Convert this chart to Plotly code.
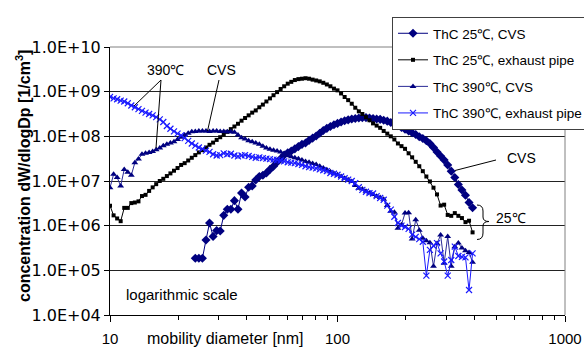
import plotly.graph_objects as go

# mobility diameter channels [nm] (64 channels per decade)
diam = [10.00, 10.37, 10.75, 11.14, 11.55, 11.97, 12.41, 12.86, 13.34, 13.82,
        14.33, 14.86, 15.40, 15.96, 16.55, 17.15, 17.78, 18.43, 19.11, 19.81,
        20.54, 21.29, 22.07, 22.88, 23.71, 24.58, 25.48, 26.42, 27.38, 28.39,
        29.43, 30.51, 31.62, 32.78, 33.98, 35.23, 36.52, 37.86, 39.24, 40.68,
        42.17, 43.72, 45.32, 46.98, 48.70, 50.48, 52.33, 54.25, 56.23, 58.29,
        60.43, 62.64, 64.94, 67.32, 69.78, 72.34, 74.99, 77.74, 80.58, 83.54,
        86.60, 89.77, 93.06, 96.47, 100.0, 103.7, 107.5, 111.4, 115.5, 119.7,
        124.1, 128.6, 133.4, 138.2, 143.3, 148.6, 154.0, 159.6, 165.5, 171.5,
        177.8, 184.3, 191.1, 198.1, 205.4, 212.9, 220.7, 228.8, 237.1, 245.8,
        254.8, 264.2, 273.8, 283.9, 294.3, 305.1, 316.2, 327.8, 339.8, 352.3,
        365.2, 378.6, 392.4]

# ThC 25C, CVS (starts at channel 24)
cvs25_start = 24
cvs25 = [1.86e5, 1.86e5, 1.86e5, 4.79e5, 1.15e6, 5.75e5, 7.76e5, 7.59e5, 1.70e6, 2.34e6,
         2.34e6, 3.63e6, 2.34e6, 5.37e6, 4.37e6, 7.24e6, 7.76e6, 1.05e7, 1.26e7, 1.35e7,
         1.51e7, 1.82e7, 2.14e7, 2.63e7, 3.16e7, 3.80e7, 4.27e7, 4.68e7, 5.25e7, 5.89e7,
         6.61e7, 7.08e7, 8.13e7, 9.12e7, 1.02e8, 1.17e8, 1.35e8, 1.51e8, 1.66e8, 1.82e8,
         1.95e8, 2.09e8, 2.24e8, 2.34e8, 2.45e8, 2.51e8, 2.57e8, 2.63e8, 2.63e8, 2.57e8,
         2.51e8, 2.45e8, 2.40e8, 2.29e8, 2.19e8, 2.04e8, 1.91e8, 1.74e8, 1.58e8, 1.45e8,
         1.32e8, 1.20e8, 1.10e8, 9.77e7, 8.91e7, 7.94e7, 6.92e7, 5.62e7, 4.47e7, 3.63e7,
         2.95e7, 2.29e7, 1.66e7, 1.20e7, 8.32e6, 6.31e6, 4.79e6, 3.31e6, 2.51e6]

# ThC 25C, exhaust pipe
pipe25 = [2.8e6, 1.7e6, 1.45e6, 1.26e6, 2.5e6, 2.5e6, 3.2e6, 3.3e6, 3.5e6, 4.6e6,
          4.9e6, 6.0e6, 7.2e6, 8.5e6, 1.00e7, 1.12e7, 1.29e7, 1.48e7, 1.70e7, 1.95e7,
          2.29e7, 2.51e7, 2.88e7, 3.31e7, 3.80e7, 4.37e7, 4.90e7, 5.62e7, 6.46e7, 7.24e7,
          8.32e7, 9.55e7, 1.10e8, 1.26e8, 1.45e8, 1.66e8, 1.91e8, 2.24e8, 2.57e8, 2.95e8,
          3.39e8, 3.80e8, 4.47e8, 5.13e8, 6.03e8, 7.08e8, 8.32e8, 9.77e8, 1.15e9, 1.32e9,
          1.51e9, 1.66e9, 1.82e9, 1.91e9, 1.95e9, 2.00e9, 1.95e9, 1.86e9, 1.78e9, 1.70e9,
          1.58e9, 1.45e9, 1.32e9, 1.17e9, 1.07e9, 9.12e8, 7.59e8, 6.46e8, 5.37e8, 4.37e8,
          3.63e8, 3.16e8, 2.69e8, 2.29e8, 1.95e8, 1.74e8, 1.55e8, 1.32e8, 1.15e8, 1.00e8,
          8.51e7, 6.92e7, 6.03e7, 5.25e7, 4.17e7, 3.39e7, 2.69e7, 2.14e7, 1.66e7, 1.26e7,
          9.77e6, 7.08e6, 5.01e6, 2.82e6, 2.95e6, 1.74e6, 1.66e6, 1.91e6, 1.66e6, 1.48e6,
          1.20e6, 1.29e6, 7.08e5]

# ThC 390C, CVS
cvs390 = [7.08e6, 1.41e7, 1.20e7, 7.76e6, 1.82e7, 1.58e7, 1.35e7, 2.57e7, 3.09e7, 3.98e7,
          4.17e7, 4.37e7, 4.57e7, 5.01e7, 5.50e7, 6.17e7, 6.61e7, 7.08e7, 7.59e7, 8.51e7,
          9.55e7, 1.07e8, 1.17e8, 1.26e8, 1.29e8, 1.32e8, 1.32e8, 1.32e8, 1.29e8, 1.32e8,
          1.32e8, 1.29e8, 1.29e8, 1.26e8, 1.26e8, 1.23e8, 1.07e8, 9.33e7, 8.71e7, 7.94e7,
          7.59e7, 7.08e7, 6.61e7, 6.03e7, 5.50e7, 5.13e7, 4.90e7, 4.68e7, 4.47e7, 4.07e7,
          3.72e7, 3.47e7, 3.31e7, 3.16e7, 2.95e7, 2.75e7, 2.63e7, 2.45e7, 2.34e7, 2.14e7,
          1.95e7, 1.78e7, 1.62e7, 1.48e7, 1.38e7, 1.26e7, 1.15e7, 1.07e7, 9.77e6, 7.94e6,
          6.92e6, 6.61e6, 5.89e6, 5.37e6, 5.01e6, 4.57e6, 4.27e6, 3.89e6, 2.82e6, 2.09e6,
          2.00e6, 8.71e5, 1.05e6, 1.91e6, 1.95e6, 5.01e5, 1.35e6, 7.94e5, 5.25e5, 4.57e5,
          4.17e5, 1.23e5, 3.98e5, 6.17e5, 1.45e5, 5.75e5, 1.23e5, 3.39e5, 4.07e5, 3.16e5,
          2.75e5, 2.51e5, 1.51e5]

# ThC 390C, exhaust pipe
pipe390 = [7.59e8, 7.08e8, 6.76e8, 6.31e8, 6.03e8, 5.50e8, 4.90e8, 4.47e8, 4.07e8, 3.72e8,
           3.39e8, 3.16e8, 2.95e8, 2.69e8, 2.40e8, 2.09e8, 1.70e8, 1.48e8, 1.29e8, 1.15e8,
           1.05e8, 9.12e7, 7.94e7, 6.92e7, 6.17e7, 5.62e7, 5.25e7, 4.79e7, 4.47e7, 3.98e7,
           3.72e7, 3.80e7, 4.17e7, 3.98e7, 4.07e7, 3.72e7, 3.55e7, 3.72e7, 3.80e7, 3.63e7,
           3.47e7, 3.31e7, 3.39e7, 3.24e7, 3.16e7, 3.09e7, 3.02e7, 2.95e7, 2.88e7, 2.75e7,
           2.63e7, 2.57e7, 2.51e7, 2.40e7, 2.29e7, 2.14e7, 2.04e7, 2.00e7, 1.91e7, 1.82e7,
           1.74e7, 1.66e7, 1.51e7, 1.45e7, 1.38e7, 1.26e7, 1.15e7, 1.07e7, 1.00e7, 8.91e6,
           7.24e6, 6.31e6, 5.75e6, 5.37e6, 5.25e6, 4.57e6, 4.17e6, 3.80e6, 2.82e6, 2.29e6,
           1.58e6, 1.15e6, 1.00e6, 9.33e5, 8.51e5, 6.31e5, 5.62e5, 5.01e5, 4.37e5, 7.59e4,
           2.88e5, 3.55e5, 4.07e5, 2.40e5, 1.58e5, 7.59e4, 1.70e5, 3.39e5, 2.09e5, 2.00e5,
           1.95e5, 3.63e4, 2.40e5]

series_names = ["ThC 25℃, CVS", "ThC 25℃, exhaust pipe",
                "ThC 390℃, CVS", "ThC 390℃, exhaust pipe"]

y_tickvals = [1e4, 1e5, 1e6, 1e7, 1e8, 1e9, 1e10]
y_ticktext = ["1.0E+04", "1.0E+05", "1.0E+06", "1.0E+07", "1.0E+08", "1.0E+09", "1.0E+10"]
x_tickvals = [10, 100, 1000]
x_ticktext = ["10", "100", "1000"]
x_minor = [20, 30, 40, 50, 60, 70, 80, 90, 200, 300, 400, 500, 600, 700, 800, 900]

FONT = "Arial, Liberation Sans, sans-serif"
W, H = 584, 347
ML, MR, MT, MB = 110, 19, 47, 32
PW, PH = W - ML - MR, H - MT - MB


def px(x):
    return (x - ML) / PW


def py(y):
    return (H - MB - y) / PH


fig = go.Figure()
fig.add_trace(go.Scatter(
    x=diam[cvs25_start:], y=cvs25, name=series_names[0], mode="lines+markers",
    line=dict(color="#000080", width=1),
    marker=dict(symbol="diamond", size=7, color="#000080"),
    legendgroup="a"))
fig.add_trace(go.Scatter(
    x=diam, y=pipe25, name=series_names[1], mode="lines+markers",
    line=dict(color="#000000", width=1),
    marker=dict(symbol="square", size=4, color="#000000"),
    legendgroup="b"))
fig.add_trace(go.Scatter(
    x=diam, y=cvs390, name=series_names[2], mode="lines+markers",
    line=dict(color="#2a2a96", width=1),
    marker=dict(symbol="triangle-up", size=6, color="#000080"),
    legendgroup="c"))
fig.add_trace(go.Scatter(
    x=diam, y=pipe390, name=series_names[3], mode="lines+markers",
    line=dict(color="#1a1aff", width=1),
    marker=dict(symbol="x-thin", size=6, color="#1a1aff",
                line=dict(color="#1a1aff", width=1.2)),
    legendgroup="d"))

fig.update_layout(
    width=W, height=H,
    margin=dict(l=ML, r=MR, t=MT, b=MB, autoexpand=False),
    paper_bgcolor="white", plot_bgcolor="white",
    font=dict(family=FONT, size=16, color="black"),
    showlegend=True,
    legend=dict(
        x=px(392), y=py(17), xanchor="left", yanchor="top",
        bgcolor="white", bordercolor="#404040", borderwidth=1,
        font=dict(family=FONT, size=13.5, color="black"),
        tracegroupgap=6, itemwidth=30),
    xaxis=dict(
        type="log", range=[1, 3],
        tickvals=x_tickvals, ticktext=x_ticktext,
        ticks="outside", ticklen=6, tickcolor="black", tickwidth=1,
        showline=True, linecolor="black", linewidth=1,
        showgrid=False, zeroline=False,
        minor=dict(tickvals=x_minor, ticks="outside", ticklen=4,
                   tickcolor="black", showgrid=False),
        tickfont=dict(family=FONT, size=15),
        ticklabelstandoff=4),
    yaxis=dict(
        type="log", range=[4, 10],
        tickvals=y_tickvals, ticktext=y_ticktext,
        ticks="outside", ticklen=5, tickcolor="black", tickwidth=1,
        showline=True, linecolor="black", linewidth=1,
        showgrid=True, gridcolor="#222222", gridwidth=1,
        zeroline=False,
        tickfont=dict(family="DejaVu Sans, Arial, sans-serif", size=16)),
)

# gray frame on top and right
fig.add_shape(type="line", xref="paper", yref="paper", x0=0, x1=1, y0=1, y1=1,
              line=dict(color="#808080", width=1), layer="above")
fig.add_shape(type="line", xref="paper", yref="paper", x0=1, x1=1, y0=0, y1=1,
              line=dict(color="#808080", width=1), layer="above")

# pointer lines
for (x0, y0, x1, y1) in [(161, 80, 134, 106), (161, 80, 156, 148),
                         (219, 80, 207.5, 131), (496, 160, 455, 170.5)]:
    fig.add_shape(type="line", xref="paper", yref="paper",
                  x0=px(x0), y0=py(y0), x1=px(x1), y1=py(y1),
                  line=dict(color="black", width=1))

# brace for 25C
pts = [(477, 205), (483, 205), (483, 211), (483, 217), (483, 221.5), (489, 221.5),
       (483, 221.5), (483, 226), (483, 233), (483, 239.5), (477, 239.5)]
P = [(px(a), py(b)) for a, b in pts]
path = (f"M {P[0][0]},{P[0][1]} Q {P[1][0]},{P[1][1]} {P[2][0]},{P[2][1]} "
        f"L {P[3][0]},{P[3][1]} Q {P[4][0]},{P[4][1]} {P[5][0]},{P[5][1]} "
        f"Q {P[6][0]},{P[6][1]} {P[7][0]},{P[7][1]} L {P[8][0]},{P[8][1]} "
        f"Q {P[9][0]},{P[9][1]} {P[10][0]},{P[10][1]}")
fig.add_shape(type="path", xref="paper", yref="paper", path=path,
              line=dict(color="black", width=1))

ann = dict(xref="paper", yref="paper", showarrow=False,
           xanchor="center", yanchor="middle")
fig.add_annotation(text="390℃", x=px(165), y=py(70), font=dict(family=FONT, size=14), **ann)
fig.add_annotation(text="CVS", x=px(221), y=py(70), font=dict(family=FONT, size=14), **ann)
fig.add_annotation(text="CVS", x=px(521), y=py(158), font=dict(family=FONT, size=14), **ann)
fig.add_annotation(text="25℃", x=px(511), y=py(218), font=dict(family=FONT, size=14), **ann)
fig.add_annotation(text="logarithmic scale", x=px(181.5), y=py(294),
                   font=dict(family=FONT, size=15), **ann)
fig.add_annotation(text="mobility diameter [nm]", x=px(225), y=py(338),
                   font=dict(family=FONT, size=16), **ann)
fig.add_annotation(text="<b>concentration dW/dlogDp [1/cm<sup>3</sup>]</b>",
                   x=px(23), y=py(176), textangle=-90,
                   font=dict(family=FONT, size=16), **ann)

fig.write_html("out.html")
